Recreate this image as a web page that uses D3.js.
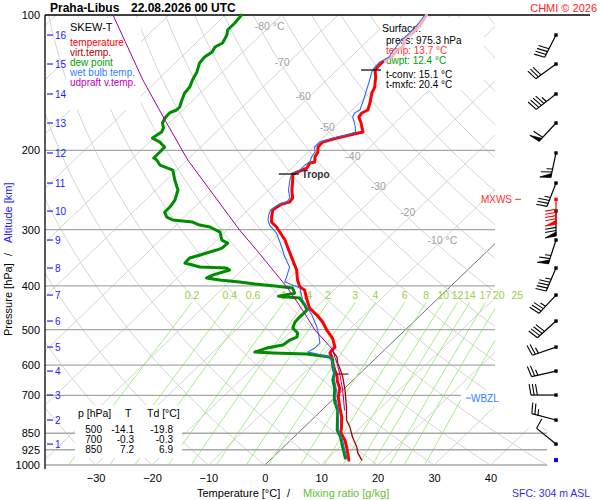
<!DOCTYPE html>
<html><head><meta charset="utf-8">
<script src="https://cdn.jsdelivr.net/npm/d3@7"></script>
<style>body{margin:0;background:#fff}svg{font-family:"Liberation Sans",Arial,sans-serif}</style>
</head><body><svg id="c" width="600" height="500"></svg>
<script>
// ---------------- data ----------------
const pressureTicks=[100,200,300,400,500,600,700,850,925,1000];
const tempTicks=[-30,-20,-10,0,10,20,30,40];
const altKm=[16,15,14,13,12,11,10,9,8,7,6,5,4,3,2,1];
const altP=[110.8,128.5,149.8,173.8,202.6,236.3,272.7,316.3,365.0,419.1,478.7,546.9,618.4,699.1,794.5,898.5];
const isoLabelT=[-80,-70,-60,-50,-40,-30,-20,-10];
const isoLabelP=[106,127,151,177,206,240,274,316];
const mixRatios=[0.2,0.4,0.6,1,1.4,2,3,4,6,8,10,12,14,17,20,25];

const tempP=[100,104.2,109.6,112.5,117.8,119.6,124.0,127.2,130.5,132.5,137.3,144.6,149.1,156.9,162.6,165.1,168.5,173.8,182.0,184.8,187.7,191.5,196.5,201.6,206.8,212.2,213.3,218.8,223.3,225.6,232.7,244.9,255.1,260.4,263.1,267.1,271.3,281.2,288.5,295.9,303.6,316.3,329.5,345.1,368.8,388.2,402.3,408.5,425.6,448.0,464.3,481.2,501.3,522.3,546.9,555.3,563.9,575.6,593.5,615.2,631.2,654.2,674.6,706.4,743.5,782.5,823.6,849.3,880.2,912.3,940.8,975.3];
const tempT=[-54.3,-53.7,-53.4,-53.9,-52.6,-53.1,-52.7,-53.4,-53.4,-53.3,-51.9,-50.2,-49.6,-48.1,-47.2,-47.7,-47.5,-46.0,-44.0,-45.8,-47.5,-49.3,-49.2,-48.3,-47.9,-47.0,-47.7,-47.3,-48.2,-48.7,-47.6,-45.9,-44.3,-44.1,-45.1,-45.4,-45.6,-44.5,-43.6,-41.8,-40.3,-37.9,-35.9,-33.6,-30.3,-28.3,-26.6,-25.2,-23.4,-21.0,-18.4,-16.1,-13.9,-11.4,-9.3,-9.3,-9.1,-8.0,-6.8,-5.1,-3.8,-2.4,-0.9,0.5,2.6,4.8,6.6,7.6,9.6,11.2,12.5,14.0];

const dewP=[100,104.2,108.0,110.8,115.4,117.8,120.8,124.0,127.8,133.9,139.5,144.6,149.1,154.5,160.1,162.6,165.1,169.4,173.8,178.3,182.0,187.7,191.5,196.5,201.6,204.7,207.9,210.0,215.5,221.1,232.7,244.9,257.7,267.1,274.1,281.2,285.5,288.5,292.9,295.9,303.6,316.3,321.2,329.5,332.9,341.5,346.8,355.8,363.2,365.0,368.8,378.4,384.2,388.2,392.1,396.2,400.3,404.4,415.1,421.5,425.6,441.1,452.6,469.1,481.2,496.2,509.1,519.7,527.7,541.4,549.8,561.2,563.9,567.0,575.6,584.5,605.8,624.7,647.5,674.6,706.4,724.8,755.0,794.5,836.4,866.9,893.9,926.5,965.1];
const dewT=[-87.1,-86.8,-86.8,-86.0,-85.3,-85.9,-85.5,-85.9,-85.7,-84.5,-83.8,-83.0,-82.8,-82.0,-81.1,-81.1,-81.8,-81.7,-81.2,-80.1,-79.7,-80.2,-78.2,-76.4,-76.3,-76.3,-76.3,-75.4,-73.9,-70.7,-68.5,-66.1,-64.8,-64.4,-64.4,-63.1,-61.5,-57.6,-55.8,-53.6,-50.9,-49.1,-47.5,-47.6,-48.2,-50.2,-51.5,-51.4,-48.0,-43.1,-42.2,-44.3,-44.8,-42.1,-38.2,-35.1,-31.2,-27.7,-26.4,-28.7,-24.6,-22.4,-21.1,-21.1,-21.0,-20.3,-18.5,-17.9,-18.6,-18.9,-21.2,-22.6,-19.2,-13.0,-8.4,-7.3,-6.0,-4.6,-3.6,-1.8,-0.2,0.8,2.8,4.6,6.4,8.3,9.6,11.2,13.0];

const wetP=[100,104.2,109.6,113.6,119.6,124.0,127.2,130.5,133.9,139.5,146.8,154.5,162.6,165.1,168.5,175.6,182.0,184.8,187.7,191.5,196.5,201.6,206.8,212.2,215.5,221.1,225.6,232.7,244.9,255.1,260.4,263.1,267.1,271.3,278.3,285.5,292.9,305.2,327.8,345.1,363.2,382.2,392.1,396.2,404.4,429.9,464.3,493.7,514.3,535.9,549.8,561.2,563.9,575.6,593.5,615.2,647.5,681.5,706.4,755.0,794.5,836.4,880.2,926.5,965.1];
const wetT=[-54.6,-54.2,-54.0,-54.1,-53.7,-53.2,-53.9,-53.9,-53.5,-52.4,-51.1,-49.8,-48.6,-49.0,-48.6,-46.7,-45.3,-46.3,-48.1,-49.8,-49.8,-48.8,-48.5,-47.9,-48.2,-48.2,-48.9,-48.1,-46.5,-44.8,-44.6,-45.5,-45.8,-46.0,-45.4,-44.6,-43.4,-40.7,-37.2,-34.8,-32.1,-30.8,-30.2,-28.9,-26.4,-23.7,-19.3,-16.2,-14.4,-12.7,-12.7,-13.2,-12.1,-8.4,-6.8,-5.3,-3.3,-1.1,0.0,2.9,4.8,6.6,9.2,11.4,13.3];

const virtP=[555.3,575.6,593.5,608.9,637.6,681.5,743.5,794.5,823.6,866.9,912.3,940.8,975.3];
const virtT=[-9.3,-7.1,-5.9,-4.6,-2.4,0.4,3.8,6.2,8.1,10.4,13.0,14.3,16.3];

const updP=[100,139.5,171.2,210.0,300.5,332.9,368.8,402.3,436.6,469.1,501.3,535.9,555.3,575.6,593.5,624.7,681.5,755.0];
const updT=[-109.9,-92.6,-81.3,-69.9,-47.8,-41.1,-34.5,-28.9,-24.0,-19.8,-16.0,-11.5,-9.1,-7.5,-6.0,-3.7,0.0,4.0];

const tropoP=[225.6,132.5];
const tropoT=[-48.7,-53.3];
const lclP=628, lclT=-3.0;

const windDir=[207,234,232,223,192,201,180,198,203,223,228,251,257,270,285,309];
const windSpd=[40,30,45,60,65,35,70,65,45,35,40,25,25,30,25,10];
const maxWindP=256.8, maxWindDir=180, maxWindSpd=90;
const sfcP=975.3;
const wbzlP=710;

const tableP=[500,700,850], tableT=[-14.1,-0.3,7.2], tableTd=[-19.8,-0.3,6.9];
const surfaceInfo={press:"975.3",temp:"13.7",dwpt:"12.4",tconv:"15.1",tmxfc:"20.4"};

// ---------------- scales ----------------
const svg=d3.select("#c");
const yS=d3.scaleLog().domain([100,1000]).range([15,465]);
const tS=d3.scaleLinear().domain([0,10]).range([264.8,321.2]);
const SK=1.04;
const X=(T,p)=>tS(T)+(465-yS(p))*SK;
const line=d3.line().x(d=>X(d[1],d[0])).y(d=>yS(d[0]));
const zipP=(P,T)=>P.map((p,i)=>[p,T[i]]);

// clip
const defs=svg.append("defs");
defs.append("clipPath").attr("id","plot").append("path").attr("d","M45,15H495V428H547V465.5H45Z");
const grid=svg.append("g").attr("clip-path","url(#plot)");

// isotherms
for(let T=-160;T<=40;T+=10){
  grid.append("path").attr("d",line([[1000,T],[100,T]]))
   .attr("stroke",T===0?"#707070":"#d4d4d4").attr("stroke-width",1).attr("fill","none");
}
// dry adiabats
const pLev=d3.range(0,61).map(i=>1000*Math.pow(0.1,i/60));
for(let th=-40;th<=220;th+=10){
  const pts=pLev.map(p=>[p,(th+273.15)*Math.pow(p/1000,0.2857)-273.15]);
  grid.append("path").attr("d",line(pts)).attr("stroke","#d4d4d4").attr("stroke-width",1).attr("fill","none");
}
// mixing ratio lines
const tdW=(w,p)=>{const e=w*p/(622+w);const l=Math.log(e/6.112);return 243.5*l/(17.67-l);};
const mixTop=435;
mixRatios.forEach(w=>{
  const pts=d3.range(0,21).map(i=>{const p=1000-(1000-mixTop)*i/20;return [p,tdW(w,p)];});
  grid.append("path").attr("d",line(pts)).attr("stroke","#a6ee7a").attr("stroke-width",1).attr("fill","none");
});
// isobars
pressureTicks.slice(1).forEach(p=>{
  svg.append("line").attr("x1",45).attr("x2",p>=850?547:495).attr("y1",yS(p)).attr("y2",yS(p))
   .attr("stroke","#a8a8a8").attr("stroke-width",1.3);
});
// isotherm labels
isoLabelT.forEach((T,i)=>{
  const x=X(T,isoLabelP[i]), y=yS(isoLabelP[i]);
  svg.append("text").attr("x",x-15).attr("y",y+4).attr("font-size",10.5).attr("fill","#a0a0a0")
   .text(T+((T===-80||T===-10)?" °C":""));
});
// mixing ratio labels
mixRatios.forEach(w=>{
  svg.append("text").attr("x",X(tdW(w,mixTop),mixTop)).attr("y",yS(mixTop)-3).attr("text-anchor","middle")
   .attr("font-size",10.5).attr("fill","#9ad040").text(w);
});

// boxes
const box=(x,y,w,h)=>svg.append("rect").attr("x",x).attr("y",y).attr("width",w).attr("height",h).attr("fill","#fff");
box(66,18,75,92); box(380,18,104,72); box(75,405,107,53); box(461,390,46,16);

// axes
svg.append("line").attr("x1",45).attr("x2",590).attr("y1",15).attr("y2",15).attr("stroke","#000").attr("stroke-width",1.3);
svg.append("line").attr("x1",45).attr("x2",45).attr("y1",15).attr("y2",469).attr("stroke","#000").attr("stroke-width",1.3);
const ay=svg.append("g").attr("transform","translate(45,0)")
 .call(d3.axisLeft(yS).tickValues(pressureTicks).tickFormat(d3.format("d")).tickSize(0).tickPadding(5));
ay.select(".domain").remove();
ay.selectAll("text").attr("font-size",11).attr("fill","#000").attr("font-family","Liberation Sans,Arial,sans-serif");
const ax=svg.append("g").attr("transform","translate(0,465)")
 .call(d3.axisBottom(tS).tickValues(tempTicks).tickSize(0).tickPadding(9));
ax.select(".domain").remove();
ax.selectAll("text").attr("font-size",11).attr("fill","#000").attr("font-family","Liberation Sans,Arial,sans-serif");
// altitude ticks
altKm.forEach((k,i)=>{
  const y=yS(altP[i]);
  svg.append("line").attr("x1",47).attr("x2",53).attr("y1",y).attr("y2",y).attr("stroke","#2020ff").attr("stroke-width",1.2);
  svg.append("text").attr("x",55).attr("y",y+3.8).attr("font-size",10).attr("fill","#2020ff").text(k);
});
// axis titles
const yt=(txt,y,col)=>svg.append("text").attr("transform",`translate(12,${y}) rotate(-90)`).attr("font-size",11).attr("fill",col).text(txt);
yt("Pressure [hPa]",336,"#000"); yt("/",256,"#000"); yt("Altitude [km]",243,"#2020ff");
svg.append("text").attr("x",197).attr("y",497).attr("font-size",11).text("Temperature [°C]");
svg.append("text").attr("x",287).attr("y",497).attr("font-size",11).text("/");
svg.append("text").attr("x",303).attr("y",497).attr("font-size",11).attr("fill","#66c030").text("Mixing ratio [g/kg]");
svg.append("text").attr("x",512).attr("y",497).attr("font-size",10.5).attr("fill","#3030e0").text("SFC: 304 m ASL");

// title
svg.append("text").attr("x",50).attr("y",12).attr("font-size",12).attr("font-weight","bold").text("Praha-Libus");
svg.append("text").attr("x",131).attr("y",12).attr("font-size",12).attr("font-weight","bold").text("22.08.2026 00 UTC");
svg.append("text").attr("x",597).attr("y",12).attr("text-anchor","end").attr("font-size",11).attr("fill","#ff2020").text("CHMI © 2026");

// legend
svg.append("text").attr("x",70).attr("y",31).attr("font-size",11).text("SKEW-T");
[["temperature","#ff0000"],["virt.temp.","#b00000"],["dew point","#00a000"],["wet bulb temp.","#3080ff"],["udpraft v.temp.","#c000c0"]]
 .forEach((d,i)=>svg.append("text").attr("x",70).attr("y",46+10*i).attr("font-size",10).attr("fill",d[1]).text(d[0]));

// surface box
const st=(x,y,t,c,fs)=>svg.append("text").attr("x",x).attr("y",y).attr("font-size",fs||10.5).attr("fill",c).text(t);
st(382,32,"Surface:","#000");
st(386,44,`press: ${surfaceInfo.press} hPa`,"#000",10);
st(386,54,`temp: ${surfaceInfo.temp} °C`,"#ff3030",10);
st(386,64,`dwpt: ${surfaceInfo.dwpt} °C`,"#00a000",10);
st(386,78,`t-conv: ${surfaceInfo.tconv} °C`,"#000",10);
st(386,88,`t-mxfc: ${surfaceInfo.tmxfc} °C`,"#000",10);

// table
st(78,417,"p [hPa]","#000"); st(125,417,"T","#000"); st(147,417,"Td [°C]","#000");
tableP.forEach((p,i)=>{
  const y=432.5+10*i;
  svg.append("text").attr("x",102).attr("y",y).attr("text-anchor","end").attr("font-size",10).text(p);
  svg.append("text").attr("x",134).attr("y",y).attr("text-anchor","end").attr("font-size",10).text(tableT[i].toFixed(1));
  svg.append("text").attr("x",173).attr("y",y).attr("text-anchor","end").attr("font-size",10).text(tableTd[i].toFixed(1));
});

// profiles
const prof=(data,col,w)=>svg.append("path").attr("d",line(data)).attr("fill","none").attr("stroke",col)
  .attr("stroke-width",w).attr("stroke-linejoin","round").attr("stroke-linecap","round");
const temp=zipP(tempP,tempT);
prof(zipP(virtP,virtT),"#a00000",1.3);
prof(temp.filter(d=>d[0]<=127.2),"#ffb0b0",3);
prof(temp.filter(d=>d[0]>=127.2),"#ff0000",3);
prof(zipP(dewP,dewT),"#008c00",3);
prof(zipP(wetP,wetT),"#2b6ff0",1.1);
prof(zipP(updP,updT),"#a000a0",1);
// LCL tick
svg.append("line").attr("x1",X(lclT,lclP)-6).attr("x2",X(lclT,lclP)+6).attr("y1",yS(lclP)).attr("y2",yS(lclP)).attr("stroke","#a00000").attr("stroke-width",1.2);
// tropopause
tropoP.forEach((p,i)=>{
  const x=X(tropoT[i],p), y=yS(p);
  svg.append("line").attr("x1",x-14).attr("x2",x+6).attr("y1",y).attr("y2",y).attr("stroke","#000").attr("stroke-width",1.2);
  if(i===0) svg.append("text").attr("x",x+9).attr("y",y+4).attr("font-size",10).attr("font-weight","bold").attr("fill","#333").text("Tropo");
});
// WBZL / MXWS
svg.append("line").attr("x1",466).attr("x2",471).attr("y1",yS(wbzlP)).attr("y2",yS(wbzlP)).attr("stroke","#3080ff");
svg.append("text").attr("x",471).attr("y",yS(wbzlP)+3.6).attr("font-size",10).attr("fill","#3080ff").text("WBZL");
svg.append("text").attr("x",512).attr("y",yS(maxWindP)+3.6).attr("text-anchor","end").attr("font-size",10).attr("fill","#ff3030").text("MXWS");
svg.append("line").attr("x1",515).attr("x2",521).attr("y1",yS(maxWindP)).attr("y2",yS(maxWindP)).attr("stroke","#ff3030");

// wind barbs
const wg=svg.append("g");
function barb(p,dir,spd,col){
  const cx=556, cy=yS(p);
  const r=dir*Math.PI/180, ux=Math.sin(r), uy=-Math.cos(r), L=25;
  const ex=cx+ux*L, ey=cy+uy*L;
  wg.append("line").attr("x1",cx).attr("y1",cy).attr("x2",ex).attr("y2",ey).attr("stroke",col).attr("stroke-width",1.2);
  const a=Math.atan2(uy,ux)+80*Math.PI/180, fx=Math.cos(a), fy=Math.sin(a);
  const pt=q=>[ex-ux*q,ey-uy*q];
  let s=Math.round(spd/5)*5, pos=0;
  while(s>=50){const [bx,by]=pt(pos),[qx,qy]=pt(pos+4);
    wg.append("path").attr("d",`M${bx},${by}L${bx+fx*11},${by+fy*11}L${qx},${qy}Z`).attr("fill",col).attr("stroke",col).attr("stroke-width",0.8);
    pos+=5.5; s-=50;}
  while(s>=10){const [bx,by]=pt(pos);
    wg.append("line").attr("x1",bx).attr("y1",by).attr("x2",bx+fx*11).attr("y2",by+fy*11).attr("stroke",col).attr("stroke-width",1.1);
    pos+=3.2; s-=10;}
  if(s>=5){if(pos===0)pos=3.2; const [bx,by]=pt(pos);
    wg.append("line").attr("x1",bx).attr("y1",by).attr("x2",bx+fx*6).attr("y2",by+fy*6).attr("stroke",col).attr("stroke-width",1.1);}
  wg.append("rect").attr("x",cx-1.7).attr("y",cy-1.7).attr("width",3.4).attr("height",3.4).attr("fill",col);
}
altP.forEach((p,i)=>barb(p,windDir[i],windSpd[i],"#000"));
barb(maxWindP,maxWindDir,maxWindSpd,"#ff0000");
wg.append("rect").attr("x",554).attr("y",yS(sfcP)-2).attr("width",4).attr("height",4).attr("fill","#0000ff");
</script></body></html>
